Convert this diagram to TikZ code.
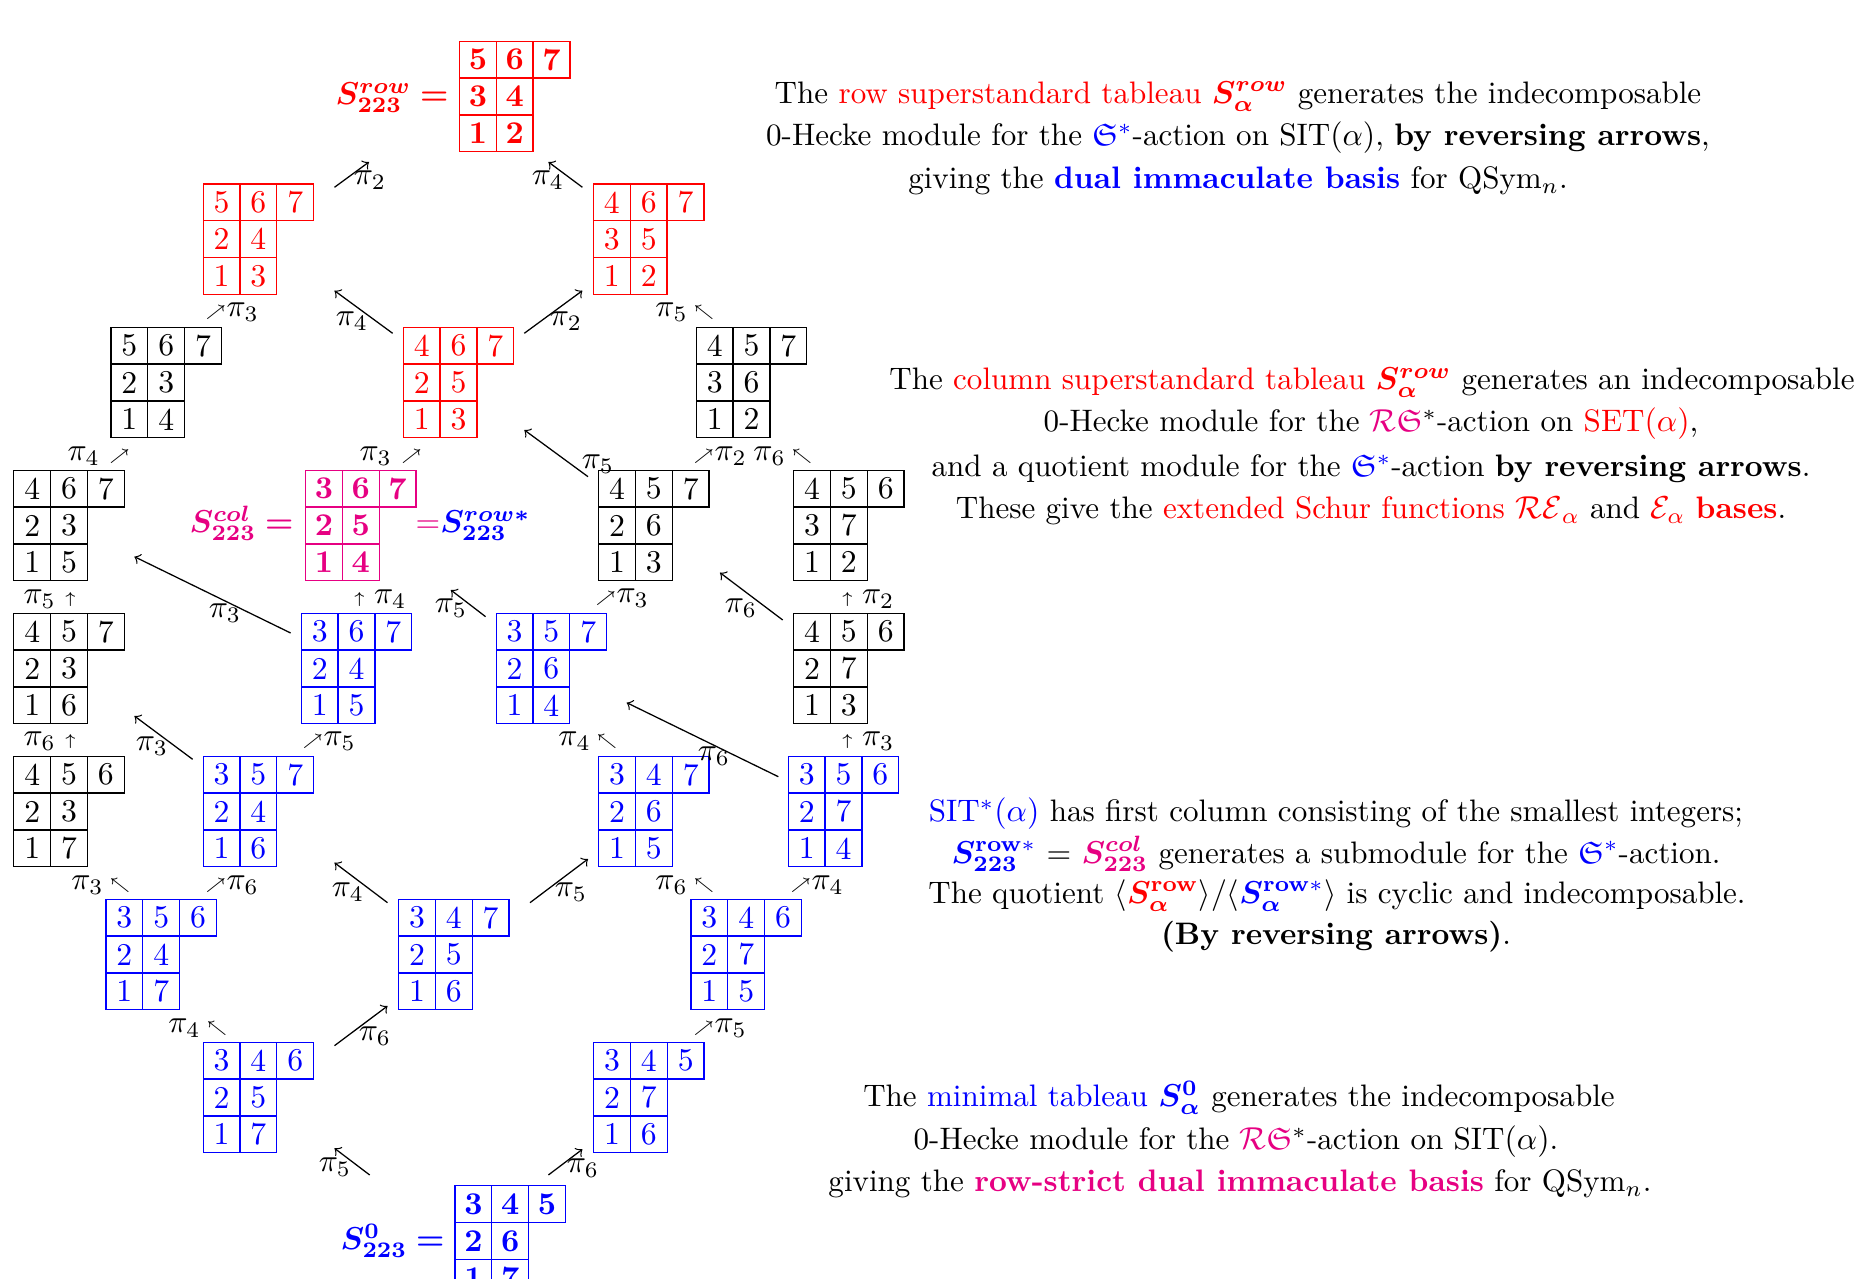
\documentclass[tikz,border=0pt]{standalone}
\usepackage{amsmath,amssymb,bm}
\definecolor{tred}{RGB}{255,0,0}
\definecolor{tblue}{RGB}{0,0,255}
\definecolor{tpink}{RGB}{230,0,130}
\tikzset{
  cell/.style={draw, minimum width=11.61pt, minimum height=11.61pt, inner sep=0pt, outer sep=0pt},
  boldtab/.style={font=\bfseries},
  lab/.style={anchor=base, inner sep=0pt},
  txt/.style={anchor=base, inner sep=0pt, font=\fontsize{9.8}{12}\selectfont},
  act/.style={->, line width=0.4pt},
}
% small direction marks next to the action labels
\newcommand{\dne}{{\scriptscriptstyle\nearrow}}
\newcommand{\dnw}{{\scriptscriptstyle\nwarrow}}
\newcommand{\dup}{{\scriptscriptstyle\uparrow}}
% a tableau of shape (3,2,2): name, left, top, style, top row, middle row, bottom row
\newcommand{\ytab}[7]{%
  \foreach \v [count=\j] in {#5} \node[cell,#4] (#1-1\j) at (#2+\j*36.8-18.4,#3+18.4) {\v};
  \foreach \v [count=\j] in {#6} \node[cell,#4] (#1-2\j) at (#2+\j*36.8-18.4,#3+55.2) {\v};
  \foreach \v [count=\j] in {#7} \node[cell,#4] (#1-3\j) at (#2+\j*36.8-18.4,#3+92) {\v};
}
\begin{document}
\begin{tikzpicture}[x=0.3155pt, y=-0.3155pt]
\useasboundingbox (0,0) rectangle (1857,1279);

% ---- tableaux ----
\ytab{srow}{459.5}{41.3}{tred,boldtab}{5,6,7}{3,4}{1,2}
\ytab{b1}{203.2}{184}{tred}{5,6,7}{2,4}{1,3}
\ytab{b2}{593.5}{184}{tred}{4,6,7}{3,5}{1,2}
\ytab{c1}{111}{327.3}{black}{5,6,7}{2,3}{1,4}
\ytab{c2}{403.3}{327.3}{tred}{4,6,7}{2,5}{1,3}
\ytab{c3}{696.3}{327.3}{black}{4,5,7}{3,6}{1,2}
\ytab{d1}{13.8}{470.3}{black}{4,6,7}{2,3}{1,5}
\ytab{scol}{305.6}{470.3}{tpink,boldtab}{3,6,7}{2,5}{1,4}
\ytab{d3}{598.7}{470.3}{black}{4,5,7}{2,6}{1,3}
\ytab{d4}{793.7}{470.3}{black}{4,5,6}{3,7}{1,2}
\ytab{e1}{13.8}{613.3}{black}{4,5,7}{2,3}{1,6}
\ytab{e2}{301.3}{613.3}{tblue}{3,6,7}{2,4}{1,5}
\ytab{e3}{496.2}{613.3}{tblue}{3,5,7}{2,6}{1,4}
\ytab{e4}{793.7}{613.3}{black}{4,5,6}{2,7}{1,3}
\ytab{f1}{13.8}{756.3}{black}{4,5,6}{2,3}{1,7}
\ytab{f2}{203.2}{756.3}{tblue}{3,5,7}{2,4}{1,6}
\ytab{f3}{598.7}{756.3}{tblue}{3,4,7}{2,6}{1,5}
\ytab{f4}{788.3}{756.3}{tblue}{3,5,6}{2,7}{1,4}
\ytab{g1}{106}{899.3}{tblue}{3,5,6}{2,4}{1,7}
\ytab{g2}{398.6}{899.3}{tblue}{3,4,7}{2,5}{1,6}
\ytab{g3}{691}{899.3}{tblue}{3,4,6}{2,7}{1,5}
\ytab{h1}{203.2}{1042.3}{tblue}{3,4,6}{2,5}{1,7}
\ytab{h2}{593.7}{1042.3}{tblue}{3,4,5}{2,7}{1,6}
\ytab{szero}{455}{1185.7}{tblue,boldtab}{3,4,5}{2,6}{1,7}

% ---- names of the special tableaux ----
\node[anchor=base east, inner sep=0pt, text=tred] (nrow) at (449,105) {$\bm{S^{row}_{223}=}$};
\node[anchor=base east, inner sep=0pt, text=tpink] (ncol) at (294,533) {$\bm{S^{col}_{223}=}$};
\node[anchor=base west, inner sep=0pt] (nrowst) at (415,533) {\textcolor{tpink}{$=$}\textcolor{tblue}{$\bm{S^{row*}_{223}}$}};
\node[anchor=base east, inner sep=0pt, text=tblue] (nzero) at (445,1250) {$\bm{S^{0}_{223}=}$};

% ---- ends of the long action arrows ----
\coordinate (a1s) at (334.5,187.3);  \coordinate (a1e) at (369,162);
\coordinate (a2s) at (582.4,187.3);  \coordinate (a2e) at (548.4,162);
\coordinate (a3s) at (392.6,333.3);  \coordinate (a3e) at (334.5,290.7);
\coordinate (a4s) at (524.3,333.3);  \coordinate (a4e) at (582.4,290.7);
\coordinate (a5s) at (588,476.7);    \coordinate (a5e) at (524.3,430);
\coordinate (a6s) at (290.6,633);    \coordinate (a6e) at (134.4,556.7);
\coordinate (a7s) at (485.6,616.7);  \coordinate (a7e) at (450.8,590);
\coordinate (a8s) at (782.7,620);    \coordinate (a8e) at (720,572.7);
\coordinate (a9s) at (778.3,776.7);  \coordinate (a9e) at (626.7,702.7);
\coordinate (a10s) at (530,902.7);   \coordinate (a10e) at (588,859);
\coordinate (a11s) at (548.4,1175);  \coordinate (a11e) at (582.4,1149.3);
\coordinate (a12s) at (192.6,759.3); \coordinate (a12e) at (134.4,716);
\coordinate (a13s) at (387.5,902.7); \coordinate (a13e) at (334.5,862.7);
\coordinate (a14s) at (334.5,1045.7);\coordinate (a14e) at (387.5,1006);
\coordinate (a15s) at (369.7,1175);  \coordinate (a15e) at (334.5,1148.3);
\foreach \k in {1,...,15} \draw[act] (a\k s) -- (a\k e);

% ---- labels of the long arrows ----
\node[lab] (l1) at (370,185) {$\pi_2$};
\node[lab] (l2) at (548,185) {$\pi_4$};
\node[lab] (l3) at (352,326) {$\pi_4$};
\node[lab] (l4) at (566,326) {$\pi_2$};
\node[lab] (l5) at (598,469) {$\pi_5$};
\node[lab] (l6) at (225,618) {$\pi_3$};
\node[lab] (l7) at (451,613) {$\pi_5$};
\node[lab] (l8) at (741,613) {$\pi_6$};
\node[lab] (l9) at (714,761) {$\pi_6$};
\node[lab] (l10) at (571,897) {$\pi_5$};
\node[lab] (l11) at (583,1173) {$\pi_6$};
\node[lab] (l12) at (152,751) {$\pi_3$};
\node[lab] (l13) at (348,897) {$\pi_4$};
\node[lab] (l14) at (375,1041) {$\pi_6$};
\node[lab] (l15) at (335,1172) {$\pi_5$};

% ---- short arrow labels ----
\node[lab] (s1) at (232,317) {$\dne\pi_3$};
\node[lab] (s2) at (99,461) {$\pi_4\;\dne$};
\node[lab] (s3) at (391,461) {$\pi_3\;\dne$};
\node[lab] (s4) at (685,317) {$\pi_5\,\dnw$};
\node[lab] (s5) at (720,461) {$\dne\pi_2$};
\node[lab] (s6) at (783,461) {$\pi_6\,\dnw$};
\node[lab] (s7) at (50,604) {$\pi_5\;\dup$};
\node[lab] (s8) at (380,604) {$\dup\;\pi_4$};
\node[lab] (s9) at (622,603) {$\dne\pi_3$};
\node[lab] (s10) at (868,604) {$\dup\;\pi_2$};
\node[lab] (s11) at (50,746) {$\pi_6\;\dup$};
\node[lab] (s12) at (329,746) {$\dne\pi_5$};
\node[lab] (s13) at (588,746) {$\pi_4\,\dnw$};
\node[lab] (s14) at (868,746) {$\dup\;\pi_3$};
\node[lab] (s15) at (101,890) {$\pi_3\,\dnw$};
\node[lab] (s16) at (232,890) {$\dne\pi_6$};
\node[lab] (s17) at (685,890) {$\pi_6\,\dnw$};
\node[lab] (s18) at (817,890) {$\dne\pi_4$};
\node[lab] (s19) at (198,1033) {$\pi_4\,\dnw$};
\node[lab] (s20) at (720,1033) {$\dne\pi_5$};

% ---- explanations ----
\node[txt] (p1a) at (1238,103.3) {The \textcolor{tred}{row superstandard tableau} \textcolor{tred}{$\bm{S_\alpha^{row}}$} generates the indecomposable};
\node[txt] (p1b) at (1238,146) {0-Hecke module for the \textcolor{tblue}{$\mathfrak{S}^*$}-action on SIT$(\alpha)$, \textbf{by reversing arrows},};
\node[txt] (p1c) at (1238,188.3) {giving the \textcolor{tblue}{\textbf{dual immaculate basis}} for QSym$_n$.};

\node[txt] (p2a) at (1372,390) {The \textcolor{tred}{column superstandard tableau} \textcolor{tred}{$\bm{S_\alpha^{row}}$} generates an indecomposable};
\node[txt] (p2b) at (1371,432) {0-Hecke module for the \textcolor{tpink}{$\mathcal{R}\mathfrak{S}$}$^*$-action on \textcolor{tred}{SET$(\alpha)$},};
\node[txt] (p2c) at (1371,476.7) {and a quotient module for the \textcolor{tblue}{$\mathfrak{S}^*$}-action \textbf{by reversing arrows}.};
\node[txt] (p2d) at (1371,518.3) {These give the \textcolor{tred}{extended Schur functions $\mathcal{RE}_\alpha$} and \textcolor{tred}{$\mathcal{E}_\alpha$ \textbf{bases}}.};

\node[txt] (p3a) at (1336,821.7) {\textcolor{tblue}{SIT$^*(\alpha)$} has first column consisting of the smallest integers;};
\node[txt] (p3b) at (1336,863.3) {\textcolor{tblue}{$\bm{S}_{\mathbf{223}}^{\mathbf{row*}}$} $=$ \textcolor{tpink}{$\bm{S_{223}^{col}}$} generates a submodule for the \textcolor{tblue}{$\mathfrak{S}^*$}-action.};
\node[txt] (p3c) at (1337,903.3) {The quotient $\langle$\textcolor{tred}{$\bm{S}_{\bm{\alpha}}^{\mathbf{row}}$}$\rangle/\langle$\textcolor{tblue}{$\bm{S}_{\bm{\alpha}}^{\mathbf{row*}}$}$\rangle$ is cyclic and indecomposable.};
\node[txt] (p3d) at (1336,945) {\textbf{(By reversing arrows)}.};

\node[txt] (p4a) at (1239,1106.7) {The \textcolor{tblue}{minimal tableau} \textcolor{tblue}{$\bm{S_\alpha^{0}}$} generates the indecomposable};
\node[txt] (p4b) at (1236,1150) {0-Hecke module for the \textcolor{tpink}{$\mathcal{R}\mathfrak{S}$}$^*$-action on SIT$(\alpha)$.};
\node[txt] (p4c) at (1240,1191.7) {giving the \textcolor{tpink}{\textbf{row-strict dual immaculate basis}} for QSym$_n$.};
\end{tikzpicture}
\end{document}
